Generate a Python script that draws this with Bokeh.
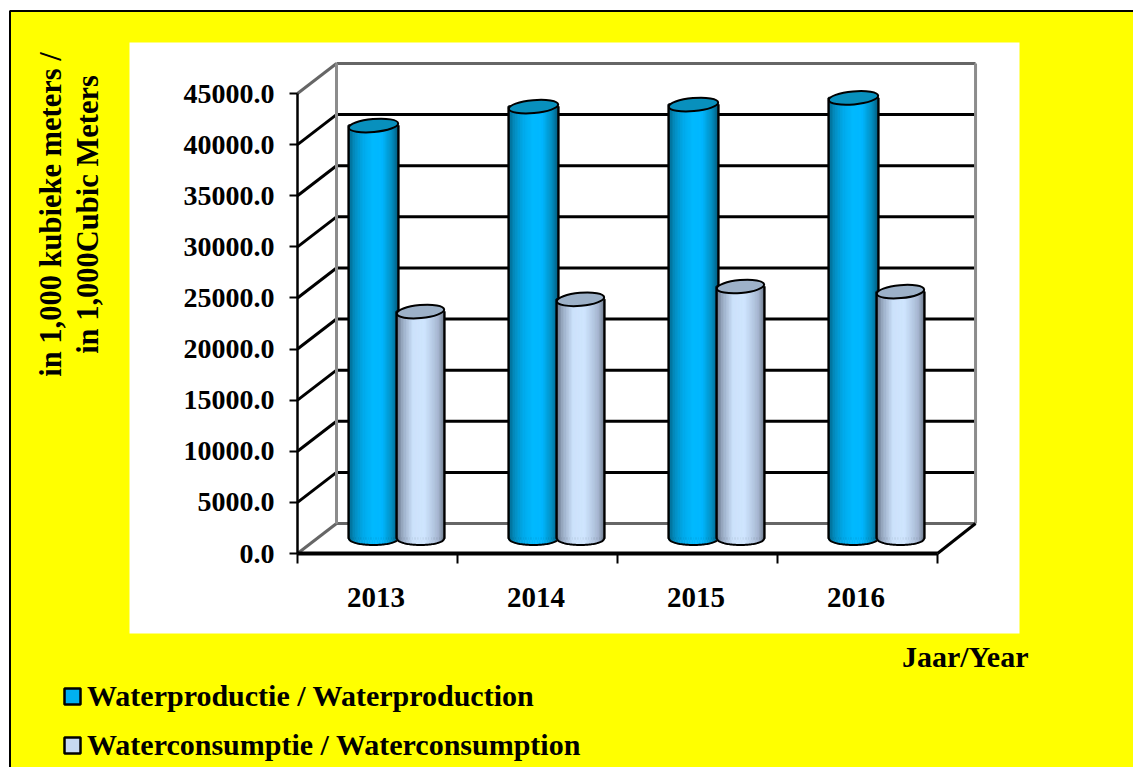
import numpy as np
from bokeh.embed import file_html
from bokeh.resources import INLINE
from bokeh.plotting import figure
from bokeh.models import (BoxAnnotation, FixedTicker, Label, Legend, LegendItem,
                          LinearAxis, NumeralTickFormatter, Range1d)

years = ["2013", "2014", "2015", "2016"]
production = [40400, 42250, 42450, 43100]
consumption = [22200, 23400, 24650, 24150]
y_ticks = [0, 5000, 10000, 15000, 20000, 25000, 30000, 35000, 40000, 45000]
name_prod = "Waterproductie / Waterproduction"
name_cons = "Waterconsumptie / Waterconsumption"
y_title_1 = "in 1,000 kubieke meters /"
y_title_2 = "in 1,000Cubic Meters"
x_title = "Jaar/Year"

FONT = "Liberation Serif"
W, H = 1133, 767
X0, Y0 = 297, 553            # canvas position of the origin
PX = 160.0                   # pixels per category
PY = 460 / 45000             # pixels per value unit
DX = 39 / PX                 # depth of the 3D box, category units
DY = 30 / PY                 # depth of the 3D box, value units
BW_P = 49.5 / PX             # production cylinder width
BW_C = 47.5 / PX             # consumption cylinder width
GAP = 47 / PX                # distance between the two cylinders of a year
EH = 13 / PY                 # cylinder ellipse height

p = figure(width=W, height=H, output_backend="svg", toolbar_location=None,
           x_range=Range1d(-X0 / PX, (W - X0) / PX),
           y_range=Range1d(-(H - Y0) / PY, Y0 / PY),
           min_border=0, x_axis_type=None, y_axis_type=None)
p.background_fill_color = "#ffffff"
p.border_fill_color = "#ffffff"
p.outline_line_color = None
p.grid.visible = False


def panel(left, right, top, bottom, **kw):
    p.add_layout(BoxAnnotation(left=left, right=right, top=H - top, bottom=H - bottom,
                               left_units="screen", right_units="screen",
                               top_units="screen", bottom_units="screen",
                               fill_alpha=1, level="underlay", **kw))


panel(9.5, W + 20, 10.5, H + 20, fill_color="#ffff00", line_color="#000000",
      line_alpha=1, line_width=2)
panel(129, 1019, 42, 633, fill_color="#ffffff", line_color=None)

# 3D box
n = len(years)
bx0, bx1 = DX, n + DX - 0.006
for t in y_ticks:
    col = "#666666" if t in (0, 45000) else "#000000"
    p.line([bx0, bx1], [t + DY, t + DY], line_color=col, line_width=3)
    p.line([0, DX], [t, t + DY], line_color=col, line_width=3)
for x in (bx0, bx1):
    p.line([x, x], [DY, 45000 + DY], line_color="#8c8c8c", line_width=3)
p.line([n, bx1], [0, DY], line_color="#000000", line_width=3)

# axes
ax_y = LinearAxis(ticker=FixedTicker(ticks=y_ticks), bounds=(0, 45000), fixed_location=0,
                  formatter=NumeralTickFormatter(format="0.0"))
ax_y.major_tick_in = 0
ax_y.major_tick_out = 8
ax_y.minor_tick_line_color = None
ax_y.major_tick_line_width = 2
ax_y.major_tick_line_color = "#000000"
ax_y.axis_line_color = "#000000"
ax_y.axis_line_width = 2.5
ax_y.major_label_standoff = 15
ax_y.major_label_text_font = FONT
ax_y.major_label_text_font_style = "bold"
ax_y.major_label_text_font_size = "28px"
ax_y.major_label_text_color = "#000000"
p.add_layout(ax_y, "left")

centers = [i + 0.5 - 1.5 / PX for i in range(n)]
ax_x = LinearAxis(ticker=FixedTicker(ticks=centers, minor_ticks=list(range(n + 1))),
                  bounds=(0, n), fixed_location=0,
                  major_label_overrides={c: y for c, y in zip(centers, years)})
ax_x.major_tick_in = 0
ax_x.major_tick_out = 0
ax_x.minor_tick_in = 0
ax_x.minor_tick_out = 10
ax_x.minor_tick_line_color = "#000000"
ax_x.minor_tick_line_width = 2
ax_x.axis_line_color = "#000000"
ax_x.axis_line_width = 4
ax_x.major_label_standoff = 24
ax_x.major_label_text_font = FONT
ax_x.major_label_text_font_style = "bold"
ax_x.major_label_text_font_size = "29px"
ax_x.major_label_text_color = "#000000"
p.add_layout(ax_x, "below")


def shade(stops, u):
    xs = [s[0] for s in stops]
    rgb = [np.interp(u, xs, [s[1][k] for s in stops]) for k in range(3)]
    return "#%02x%02x%02x" % tuple(int(round(c)) for c in rgb)


BLUE = [(0, (3, 100, 135)), (0.12, (5, 140, 190)), (0.3, (2, 170, 235)), (0.5, (0, 186, 255)),
        (0.68, (0, 184, 255)), (0.88, (4, 140, 190)), (1, (3, 92, 125))]
GREY = [(0, (98, 110, 128)), (0.12, (150, 168, 192)), (0.35, (205, 226, 252)), (0.6, (208, 230, 255)),
        (0.88, (165, 182, 208)), (1, (112, 124, 142))]


def cylinder(cx, val, w, stops, mid, top):
    base = DY / 2
    high = val + base
    bar = p.vbar(x=[cx], width=[w], bottom=[base], top=[high], fill_color=mid,
                 line_color="#000000", line_width=2.5)
    k = 30
    edges = np.linspace(cx - w / 2, cx + w / 2, k + 1)
    for a, b in zip(edges[:-1], edges[1:]):
        m = (a + b) / 2
        u = (m - cx) / (w / 2)
        low = base - EH / 2 * np.sqrt(max(0, 1 - u * u))
        c = shade(stops, (u + 1) / 2)
        p.quad(left=[a], right=[b], bottom=[low], top=[high], fill_color=c,
               line_color=c, line_width=0.6)
    xs = np.linspace(cx - w / 2, cx + w / 2, 41)
    us = (xs - cx) / (w / 2)
    ys = base - EH / 2 * np.sqrt(np.clip(1 - us * us, 0, 1))
    px = [xs[0]] + list(xs) + [xs[-1]]
    py = [high] + list(ys) + [high]
    p.line(px, py, line_color="#000000", line_width=2)
    p.ellipse(x=[cx], y=[high], width=[w], height=[EH], angle=0.09,
              fill_color=top, line_color="#000000", line_width=2)
    return bar


r_prod = r_cons = None
for i in range(n):
    cx = i + 0.5 + DX / 2
    r_prod = cylinder(cx - GAP / 2, production[i], BW_P, BLUE, "#00b0f0", "#0890bd")
    r_cons = cylinder(cx + GAP / 2, consumption[i], BW_C, GREY, "#c6d9f1", "#9db1c8")

legend = Legend(items=[LegendItem(label=name_prod, renderers=[r_prod]),
                       LegendItem(label=name_cons, renderers=[r_cons])],
                location=(62, 5), orientation="vertical",
                background_fill_alpha=0, border_line_color=None,
                label_text_font=FONT, label_text_font_style="bold",
                label_text_font_size="30px", label_text_color="#000000",
                glyph_width=20, glyph_height=20, label_height=27,
                spacing=15, label_standoff=5, margin=0, padding=0)
p.add_layout(legend, "center")


def txt(s, x, y, angle=0, align="left", size="30.5px"):
    p.add_layout(Label(x=x, y=H - y, x_units="screen", y_units="screen", text=s,
                       angle=angle, text_font=FONT, text_font_style="bold",
                       text_font_size=size, text_color="#000000",
                       text_align=align, text_baseline="middle"))


txt(y_title_1, 50, 214, angle=np.pi / 2, align="center")
txt(y_title_2, 87, 214, angle=np.pi / 2, align="center")
txt(x_title, 1028, 656, align="right", size="30px")

open("out.html", "w").write(file_html(p, INLINE))
